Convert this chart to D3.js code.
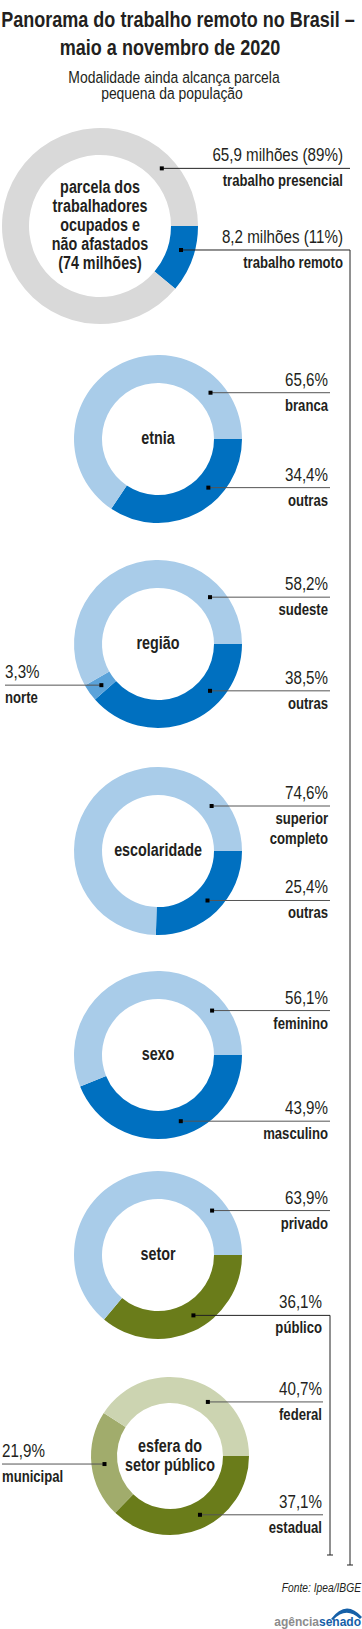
<!DOCTYPE html>
<html>
<head>
<meta charset="utf-8">
<script src="https://cdn.jsdelivr.net/npm/d3@7"></script>
<style>
  body { margin: 0; background: #fff; }
  svg { display: block; }
</style>
</head>
<body>
<svg id="chart"></svg>
<script>
// ---- data ----
const mainCategories = ['trabalho remoto', 'trabalho presencial']
const mainValues = [8.2, 65.9]        // milhões
const mainShares = [11, 89]           // %
const mainTotal = 74
const mainCenterLines = ['parcela dos', 'trabalhadores', 'ocupados e', 'não afastados', `(${mainTotal} milhões)`]

const etniaCategories = ['outras', 'branca']
const etniaValues = [34.4, 65.6]

const regiaoCategories = ['outras', 'norte', 'sudeste']
const regiaoValues = [38.5, 3.3, 58.2]

const escolaridadeCategories = ['outras', 'superior completo']
const escolaridadeValues = [25.4, 74.6]

const sexoCategories = ['masculino', 'feminino']
const sexoValues = [43.9, 56.1]

const setorCategories = ['público', 'privado']
const setorValues = [36.1, 63.9]

const esferaCategories = ['estadual', 'municipal', 'federal']
const esferaValues = [37.1, 21.9, 40.7]

// ---- styles ----
const W = 362, H = 1629
// no condensed face installed: squeeze Liberation Sans horizontally
const FONT = "'Liberation Sans', Arial, sans-serif"
const SQUEEZE = 0.82
const ink = '#231f20'
const blueDark = '#0070c0', blueMid = '#5ba3da', blueLight = '#a9cce9'
const grayRing = '#d9d9d9'
const oliveDark = '#6a7c1a', oliveMid = '#a1ac6c', oliveLight = '#ccd4b1'

const locale = d3.formatLocale({ decimal: ',', thousands: '.', grouping: [3], currency: ['R$', ''] })
const fmt1 = locale.format('.1f')

const svg = d3.select('#chart').attr('width', W).attr('height', H)
  .style('font-family', FONT)

svg.append('rect').attr('width', W).attr('height', H).attr('fill', '#fff')

function txt(parent, x, y, s, size, opts = {}) {
  return parent.append('text')
    .attr('transform', `translate(${x},${y}) scale(${opts.sx || SQUEEZE},1)`)
    .attr('text-anchor', opts.anchor || 'middle')
    .attr('font-size', size)
    .attr('font-weight', opts.bold ? 'bold' : 'normal')
    .attr('font-style', opts.italic ? 'italic' : 'normal')
    .attr('fill', opts.fill || ink)
    .text(s)
}

// Title + subtitle
txt(svg, 178, 27, 'Panorama do trabalho remoto no Brasil –', 22, { bold: true })
txt(svg, 170, 55, 'maio a novembro de 2020', 22, { bold: true })
txt(svg, 174, 83, 'Modalidade ainda alcança parcela', 17)
txt(svg, 172, 99, 'pequena da população', 17)

// chart layouts (positions only)
const charts = [
  {
    cats: mainCategories, vals: mainValues, colors: [blueDark, grayRing],
    cx: 100, cy: 226, ro: 98, ri: 71, title: mainCenterLines, step: 18.8,
    valueText: (v, i) => `${fmt1(v)} milhões (${mainShares[i]}%)`,
    labels: [
      { angle: 106.5, x: 343, end: 350, drop: 1565, stroke: '#222' },
      { angle: 47, x: 343, end: 350, stroke: '#222' },
    ],
  },
  {
    cats: etniaCategories, vals: etniaValues, colors: [blueDark, blueLight],
    cx: 158, cy: 439, ro: 84, ri: 56, title: ['etnia'],
    labels: [{ angle: 134, x: 328, end: 330 }, { angle: 48.6, x: 328, end: 330 }],
  },
  {
    cats: regiaoCategories, vals: regiaoValues, colors: [blueDark, blueMid, blueLight],
    cx: 158, cy: 644, ro: 84, ri: 56, title: ['região'],
    labels: [
      { angle: 132, x: 328, end: 330 },
      { angle: 234, x: 5, end: 5, left: true },
      { angle: 48, x: 328, end: 330 },
    ],
  },
  {
    cats: escolaridadeCategories, vals: escolaridadeValues, colors: [blueDark, blueLight],
    cx: 158, cy: 851, ro: 84, ri: 56, title: ['escolaridade'],
    labels: [{ angle: 135, x: 328, end: 330 }, { angle: 50, x: 328, end: 330, wrap: true }],
  },
  {
    cats: sexoCategories, vals: sexoValues, colors: [blueDark, blueLight],
    cx: 158, cy: 1055, ro: 84, ri: 56, title: ['sexo'],
    labels: [{ angle: 161, x: 328, end: 330 }, { angle: 50.6, x: 328, end: 330 }],
  },
  {
    cats: setorCategories, vals: setorValues, colors: [oliveDark, blueLight],
    cx: 158, cy: 1255, ro: 84, ri: 56, title: ['setor'],
    labels: [
      { angle: 149.6, x: 322, end: 330, drop: 1555, stroke: '#222' },
      { angle: 50.6, x: 328, end: 330 },
    ],
  },
  {
    cats: esferaCategories, vals: esferaValues, colors: [oliveDark, oliveMid, oliveLight],
    cx: 170, cy: 1456, ro: 79, ri: 53, title: ['esfera do', 'setor público'],
    labels: [
      { angle: 153, x: 322, end: 323 },
      { angle: 263, x: 2, end: 2, left: true },
      { angle: 35, x: 322, end: 323 },
    ],
  },
]

const pie = d3.pie().sort(null).value(d => d)
  .startAngle(Math.PI / 2).endAngle(Math.PI / 2 + 2 * Math.PI)

charts.forEach(c => {
  const g = svg.append('g').attr('transform', `translate(${c.cx},${c.cy})`)
  const arc = d3.arc().innerRadius(c.ri).outerRadius(c.ro)
  const slices = pie(c.vals)

  g.selectAll('path.slice')
    .data(slices)
    .join('path')
    .attr('class', 'slice')
    .attr('d', arc)
    .attr('fill', (d, i) => c.colors[i])

  // center title
  const step = c.step || 19
  const y0 = 5 - (c.title.length - 1) * step / 2
  c.title.forEach((line, i) => txt(g, 0, y0 + i * step, line, 17.5, { bold: true }))

  // callouts
  const rm = (c.ri + c.ro) / 2
  c.labels.forEach((lab, i) => {
    const [mx, my] = d3.pointRadial(lab.angle * Math.PI / 180, rm)
    const px = c.cx + mx, py = c.cy + my
    const stroke = lab.stroke || '#555'

    let d
    if (lab.left) {
      d = `M${lab.end},${py}H${px}`
    } else {
      d = `M${px},${py}H${lab.end}`
      if (lab.drop) d += `V${lab.drop}M${lab.end - 3},${lab.drop}H${lab.end + 3}`
    }
    svg.append('path')
      .attr('d', d)
      .attr('fill', 'none')
      .attr('stroke', stroke)
      .attr('stroke-width', 1)

    svg.append('rect')
      .attr('x', px - 2).attr('y', py - 2)
      .attr('width', 4).attr('height', 4)
      .attr('fill', '#000')

    const anchor = lab.left ? 'start' : 'end'
    const valueStr = c.valueText ? c.valueText(c.vals[i], i) : `${fmt1(c.vals[i])}%`
    txt(svg, lab.x, py - 7, valueStr, 18.5, { anchor })

    const nameLines = lab.wrap ? c.cats[i].split(' ') : [c.cats[i]]
    nameLines.forEach((t, j) => txt(svg, lab.x, py + 18 + j * 20, t, 16, { anchor, bold: true }))
  })
})

// source
txt(svg, 361, 1592, 'Fonte: Ipea/IBGE', 12.5, { anchor: 'end', italic: true })

// logo
const logo = svg.append('g')
logo.append('path')
  .attr('d', 'M331,1619 Q346,1599 362,1617 L360,1619 Q346,1606 333,1620 Z')
  .attr('fill', '#1560a8')
const lt = logo.append('text')
  .attr('x', 361).attr('y', 1626)
  .attr('text-anchor', 'end')
  .attr('font-weight', 'bold')
  .attr('font-size', 12)
lt.append('tspan').attr('fill', '#8c8c8c').text('agência')
lt.append('tspan').attr('fill', '#1560a8').text('senado')
</script>
</body>
</html>
